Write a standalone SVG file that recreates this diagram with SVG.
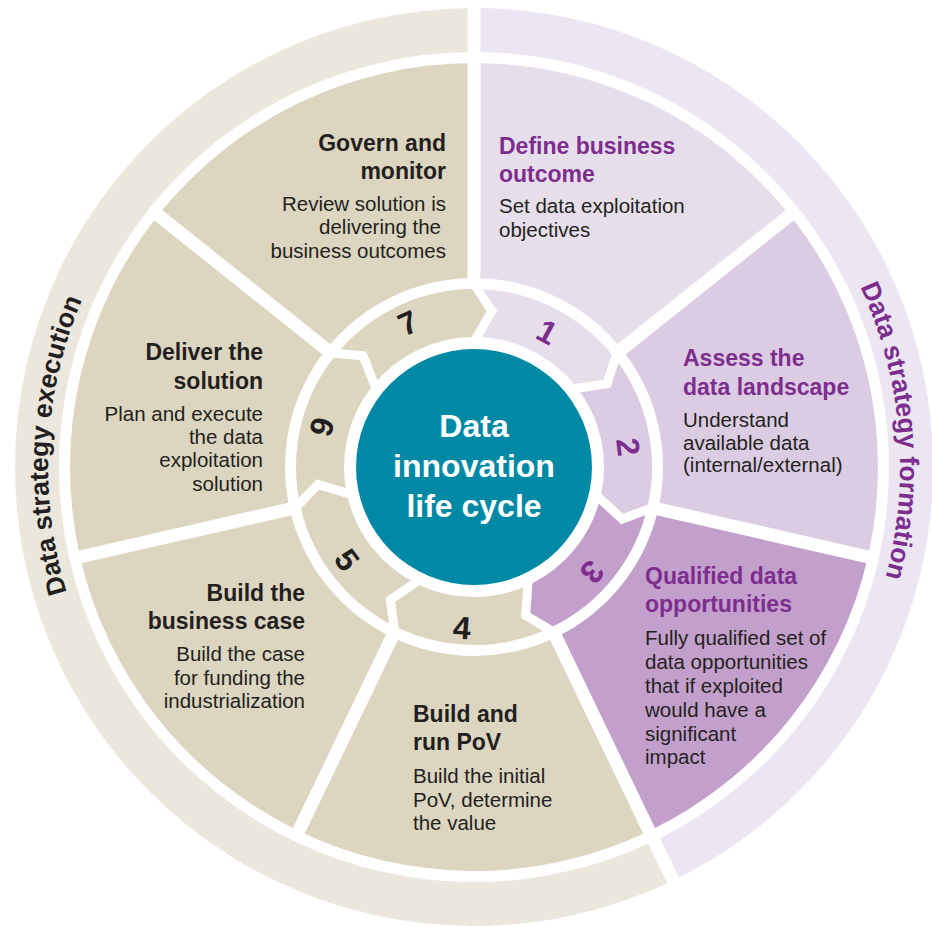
<svg xmlns="http://www.w3.org/2000/svg" width="932" height="926" viewBox="0 0 932 926">
<defs>
<style>
.f{font-family:"Liberation Sans",Arial,sans-serif}
.t{font-weight:bold;font-size:23px}
.b{font-size:20.5px;fill:#231f20}
.p{fill:#7d2d8e}
.d{fill:#231f20}
.n{font-weight:bold;font-size:32px;text-anchor:middle}
.e{text-anchor:end}
.gap{stroke:#fff;stroke-width:13;fill:none}
.cg{stroke:#fff;stroke-width:9;fill:none;stroke-linejoin:miter;stroke-miterlimit:10}
.bg{fill:#dcd5c0}
.c1{fill:#e6dfeb}
.c2{fill:#dbcce3}
.c3{fill:#c3a0cb}
.band{font-weight:bold;font-size:26.5px}
</style>
<path id="arcR" d="M 687 98.07 A 426 426 0 0 1 747.83 793.34"/>
<path id="arcL" d="M 211.71 802.69 A 426 426 0 0 1 248.26 105.73"/>
</defs>
<rect width="932" height="926" fill="#fff"/>

<g id="band-formation">
<path fill="#ece5f2" d="M 474 8 A 459 459 0 0 1 673.15 880.55 L 654.06 840.9 A 415 415 0 0 0 474 52 Z"/>
<text class="f p band"><textPath href="#arcR" startOffset="50%" text-anchor="middle">Data strategy formation</textPath></text>
</g>
<g id="band-execution">
<path fill="#ebe7dd" d="M 673.15 880.55 A 459 459 0 1 1 474 8 L 474 52 A 415 415 0 1 0 654.06 840.9 Z"/>
<text class="f d band"><textPath href="#arcL" startOffset="50%" text-anchor="middle">Data strategy execution</textPath></text>
</g>

<g id="step1">
<path class="c1" d="M 474 63 A 404 404 0 0 1 789.86 215.11 L 621.77 349.16 A 189 189 0 0 0 474 278 Z"/>
<path class="c1" d="M 474 289 A 178 178 0 0 1 613.17 356.02 L 607.05 383.64 L 575.64 385.95 A 130 130 0 0 0 474 337 L 491.77 311.01 Z"/>
<text class="f n p" transform="translate(547,332) rotate(28.4)" y="11">1</text>
<text class="f t p" x="499" y="154">Define business</text>
<text class="f t p" x="499" y="182">outcome</text>
<text class="f b" x="499" y="213">Set data exploitation</text>
<text class="f b" x="499" y="237">objectives</text>
</g>

<g id="step2">
<path class="c2" d="M 789.86 215.11 A 404 404 0 0 1 867.87 556.9 L 658.26 509.06 A 189 189 0 0 0 621.77 349.16 Z"/>
<path class="c2" d="M 613.17 356.02 A 178 178 0 0 1 647.54 506.61 L 622.12 519.04 L 600.74 495.93 A 130 130 0 0 0 575.64 385.95 L 607.05 383.64 Z"/>
<text class="f n p" transform="translate(628,447) rotate(82.6)" y="11">2</text>
<text class="f t p" x="683" y="366">Assess the</text>
<text class="f t p" x="683" y="395">data landscape</text>
<text class="f b" x="683" y="427">Understand</text>
<text class="f b" x="683" y="450">available data</text>
<text class="f b" x="683" y="472">(internal/external)</text>
</g>

<g id="step3">
<path class="c3" d="M 867.87 556.9 A 404 404 0 0 1 649.29 830.99 L 556 637.28 A 189 189 0 0 0 658.26 509.06 Z"/>
<path class="c3" d="M 647.54 506.61 A 178 178 0 0 1 551.23 627.37 L 525.67 615.25 L 530.4 584.13 A 130 130 0 0 0 600.74 495.93 L 622.12 519.04 Z"/>
<text class="f n p" transform="translate(592,572) rotate(131.7)" y="11">3</text>
<text class="f t p" x="645" y="584">Qualified data</text>
<text class="f t p" x="645" y="612">opportunities</text>
<text class="f b" x="645" y="645">Fully qualified set of</text>
<text class="f b" x="645" y="669">data opportunities</text>
<text class="f b" x="645" y="693">that if exploited</text>
<text class="f b" x="645" y="717">would have a</text>
<text class="f b" x="645" y="741">significant</text>
<text class="f b" x="645" y="764">impact</text>
</g>

<g id="step4">
<path class="bg" d="M 649.29 830.99 A 404 404 0 0 1 298.71 830.99 L 392 637.28 A 189 189 0 0 0 556 637.28 Z"/>
<path class="bg" d="M 551.23 627.37 A 178 178 0 0 1 396.77 627.37 L 390.29 599.83 L 417.6 584.13 A 130 130 0 0 0 530.4 584.13 L 525.67 615.25 Z"/>
<text class="f n d" transform="translate(462,628) rotate(4.3)" y="11">4</text>
<text class="f t d" x="413" y="722">Build and</text>
<text class="f t d" x="413" y="750">run PoV</text>
<text class="f b" x="413" y="783">Build the initial</text>
<text class="f b" x="413" y="806.5">PoV, determine</text>
<text class="f b" x="413" y="830">the value</text>
</g>

<g id="step5">
<path class="bg" d="M 298.71 830.99 A 404 404 0 0 1 80.13 556.9 L 289.74 509.06 A 189 189 0 0 0 392 637.28 Z"/>
<path class="bg" d="M 396.77 627.37 A 178 178 0 0 1 300.46 506.61 L 317.97 484.38 L 347.26 495.93 A 130 130 0 0 0 417.6 584.13 L 390.29 599.83 Z"/>
<text class="f n d" transform="translate(347,560) rotate(53.8)" y="11">5</text>
<text class="f t d e" x="305" y="601">Build the</text>
<text class="f t d e" x="305" y="629">business case</text>
<text class="f b e" x="305" y="661">Build the case</text>
<text class="f b e" x="305" y="685">for funding the</text>
<text class="f b e" x="305" y="708">industrialization</text>
</g>

<g id="step6">
<path class="bg" d="M 80.13 556.9 A 404 404 0 0 1 158.14 215.11 L 326.23 349.16 A 189 189 0 0 0 289.74 509.06 Z"/>
<path class="bg" d="M 300.46 506.61 A 178 178 0 0 1 334.83 356.02 L 363.12 355.85 L 372.36 385.95 A 130 130 0 0 0 347.26 495.93 L 317.97 484.38 Z"/>
<text class="f n d" transform="translate(322,427) rotate(104.7)" y="11">6</text>
<text class="f t d e" x="263" y="360">Deliver the</text>
<text class="f t d e" x="263" y="389">solution</text>
<text class="f b e" x="263" y="421">Plan and execute</text>
<text class="f b e" x="263" y="444">the data</text>
<text class="f b e" x="263" y="467">exploitation</text>
<text class="f b e" x="263" y="491">solution</text>
</g>

<g id="step7">
<path class="bg" d="M 158.14 215.11 A 404 404 0 0 1 474 63 L 474 278 A 189 189 0 0 0 326.23 349.16 Z"/>
<path class="bg" d="M 334.83 356.02 A 178 178 0 0 1 474 289 L 491.77 311.01 L 474 337 A 130 130 0 0 0 372.36 385.95 L 363.12 355.85 Z"/>
<text class="f n d" transform="translate(408,323) rotate(-24.6)" y="11">7</text>
<text class="f t d e" x="446" y="151">Govern and</text>
<text class="f t d e" x="446" y="179">monitor</text>
<text class="f b e" x="446" y="211">Review solution is</text>
<text class="f b e" x="441" y="234">delivering the</text>
<text class="f b e" x="446" y="258">business outcomes</text>
</g>

<g id="connectors">
<line class="gap" stroke-width="14" x1="474" y1="284" x2="474" y2="2"/>
<line class="gap" x1="617.07" y1="352.9" x2="794.55" y2="211.37"/>
<line class="gap" x1="652.41" y1="507.72" x2="873.72" y2="558.23"/>
<line class="gap" stroke-width="14" x1="553.4" y1="631.88" x2="675.75" y2="885.95"/>
<line class="gap" x1="394.6" y1="631.88" x2="296.11" y2="836.4"/>
<line class="gap" x1="295.59" y1="507.72" x2="74.28" y2="558.23"/>
<line class="gap" x1="330.93" y1="352.9" x2="153.45" y2="211.37"/>
<polyline class="cg" points="474,284 491.77,311.01 474,342"/>
<polyline class="cg" points="617.07,352.9 607.05,383.64 571.73,389.06"/>
<polyline class="cg" points="652.41,507.72 622.12,519.04 595.87,494.82"/>
<polyline class="cg" points="553.4,631.88 525.67,615.25 528.24,579.62"/>
<polyline class="cg" points="394.6,631.88 390.29,599.83 419.76,579.62"/>
<polyline class="cg" points="295.59,507.72 317.97,484.38 352.13,494.82"/>
<polyline class="cg" points="330.93,352.9 363.12,355.85 376.27,389.06"/>
</g>

<g id="center">
<circle cx="474" cy="467" r="118" fill="#0089a5"/>
<text class="f" font-weight="bold" font-size="32" fill="#fff" text-anchor="middle"><tspan x="474" y="437">Data</tspan><tspan x="474" y="477">innovation</tspan><tspan x="474" y="517">life cycle</tspan></text>
</g>
</svg>
